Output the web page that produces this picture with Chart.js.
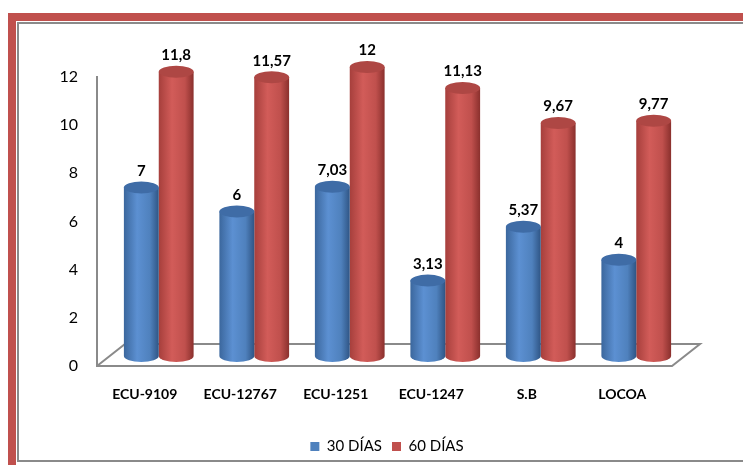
<!DOCTYPE html>
<html>
<head>
<meta charset="utf-8">
<script src="https://cdn.jsdelivr.net/npm/chart.js@4.4.1/dist/chart.umd.min.js"></script>
<style>
  html, body { margin: 0; padding: 0; background: #ffffff; }
  #wrap { position: relative; width: 743px; height: 465px; overflow: hidden; background: #ffffff; }
  .frame-red-left { position: absolute; left: 8px; top: 13px; width: 8px; height: 452px; background: #c0504d; }
  .frame-red-top { position: absolute; left: 8px; top: 13px; width: 735px; height: 8px; background: #c0504d; }
  .frame-gray-left { position: absolute; left: 17px; top: 22px; width: 2px; height: 440px; background: #8a8a8a; }
  .frame-gray-top { position: absolute; left: 17px; top: 22px; width: 726px; height: 2px; background: #8a8a8a; }
  .frame-gray-bottom { position: absolute; left: 17px; top: 460px; width: 726px; height: 2px; background: #8a8a8a; }
  canvas { position: absolute; left: 0; top: 0; }
</style>
</head>
<body>
<div id="wrap">
  <div class="frame-red-left"></div>
  <div class="frame-red-top"></div>
  <div class="frame-gray-left"></div>
  <div class="frame-gray-top"></div>
  <div class="frame-gray-bottom"></div>
  <canvas id="chart" width="743" height="465"></canvas>
</div>
<script>
// Categories (varieties) and the two measurement series
const categories = ['ECU-9109', 'ECU-12767', 'ECU-1251', 'ECU-1247', 'S.B', 'LOCOA'];
const dias30 = [7, 6, 7.03, 3.13, 5.37, 4];
const dias60 = [11.8, 11.57, 12, 11.13, 9.67, 9.77];
const seriesNames = ['30 DÍAS', '60 DÍAS'];
const yTicks = [0, 2, 4, 6, 8, 10, 12];

const FONT = 'Lato, "Open Sans", "DejaVu Sans", sans-serif';

// Shading for each cylinder: left edge, highlight, body, right edge, top cap
const shades = [
  { base: '#4f81bd', left: '#3b679d', mid: '#5c90d2', right: '#2f5585', cap: '#3f6ca6' },
  { base: '#c0504d', left: '#a63f3c', mid: '#d25c59', right: '#8a302d', cap: '#ae4744' }
];

// Depth offset of the bars inside the floor, and the floor's full depth
const BAR_DX = 14, BAR_DY = -10;
const FLOOR_DX = 28, FLOOR_DY = -22;
const CAP_RY = 6;
// Horizontal shift of the legend row
const LEGEND_SHIFT = 52;

function fmt(v) { return String(v).replace('.', ','); }

const floorPlugin = {
  id: 'floor',
  afterLayout(chart) {
    if (chart.legend) {
      chart.legend.left += LEGEND_SHIFT;
      chart.legend.right += LEGEND_SHIFT;
    }
  },
  beforeDatasetsDraw(chart) {
    const { ctx, chartArea: a } = chart;
    ctx.save();
    ctx.strokeStyle = '#8a8a8a';
    ctx.lineWidth = 2;
    ctx.beginPath();
    ctx.moveTo(a.left, a.bottom);
    ctx.lineTo(a.right + 2, a.bottom);
    ctx.lineTo(a.right + 2 + FLOOR_DX, a.bottom + FLOOR_DY);
    ctx.lineTo(a.left + FLOOR_DX, a.bottom + FLOOR_DY);
    ctx.lineTo(a.left, a.bottom);
    ctx.stroke();
    ctx.restore();
  }
};

const cylinderPlugin = {
  id: 'cylinders',
  beforeDatasetDraw(chart, args) {
    const { ctx } = chart;
    const meta = args.meta;
    const s = shades[args.index];
    ctx.save();
    meta.data.forEach((el, i) => {
      const p = el.getProps(['x', 'y', 'base', 'width'], true);
      const cx = p.x + BAR_DX;
      const rx = p.width / 2;
      const top = p.y + BAR_DY;
      const bot = p.base + BAR_DY;
      const x0 = cx - rx, x1 = cx + rx;
      const g = ctx.createLinearGradient(x0, 0, x1, 0);
      g.addColorStop(0, s.left);
      g.addColorStop(0.38, s.mid);
      g.addColorStop(0.75, s.base);
      g.addColorStop(1, s.right);
      // body with rounded bottom
      ctx.beginPath();
      ctx.moveTo(x0, top);
      ctx.lineTo(x0, bot);
      ctx.ellipse(cx, bot, rx, CAP_RY, 0, Math.PI, 0, true);
      ctx.lineTo(x1, top);
      ctx.closePath();
      ctx.fillStyle = g;
      ctx.fill();
      // top cap
      ctx.beginPath();
      ctx.ellipse(cx, top, rx, CAP_RY, 0, 0, Math.PI * 2);
      ctx.fillStyle = s.cap;
      ctx.fill();
      // value label
      ctx.fillStyle = '#000000';
      ctx.font = 'bold 15px ' + FONT;
      ctx.textAlign = 'center';
      ctx.textBaseline = 'bottom';
      ctx.fillText(fmt(chart.data.datasets[args.index].data[i]), cx, top - CAP_RY - 3);
    });
    ctx.restore();
    return false;
  }
};

new Chart(document.getElementById('chart'), {
  type: 'bar',
  data: {
    labels: categories,
    datasets: [
      { label: seriesNames[0], data: dias30, backgroundColor: shades[0].base },
      { label: seriesNames[1], data: dias60, backgroundColor: shades[1].base }
    ]
  },
  options: {
    responsive: false,
    animation: false,
    layout: { padding: { left: 0, right: 73, top: 77, bottom: 1 } },
    datasets: { bar: { categoryPercentage: 0.73, barPercentage: 1 } },
    plugins: {
      legend: {
        position: 'bottom',
        labels: {
          boxWidth: 9, boxHeight: 9, padding: 10,
          color: '#000000',
          font: { family: FONT, size: 15 }
        }
      },
      tooltip: { enabled: false }
    },
    scales: {
      x: {
        grid: { display: false, drawTicks: false },
        border: { display: false },
        ticks: { color: '#000000', padding: 20, font: { family: FONT, size: 14, weight: 'bold' } },
        afterFit(scale) { scale.height = 63; }
      },
      y: {
        min: 0, max: 12,
        grid: { display: false, drawTicks: false },
        border: { display: true, color: '#8a8a8a', width: 2 },
        afterBuildTicks(scale) { scale.ticks = yTicks.map(v => ({ value: v })); },
        ticks: { color: '#000000', padding: 19, font: { family: FONT, size: 16 } },
        afterFit(scale) { scale.width = 97; }
      }
    }
  },
  plugins: [floorPlugin, cylinderPlugin]
});
</script>
</body>
</html>
